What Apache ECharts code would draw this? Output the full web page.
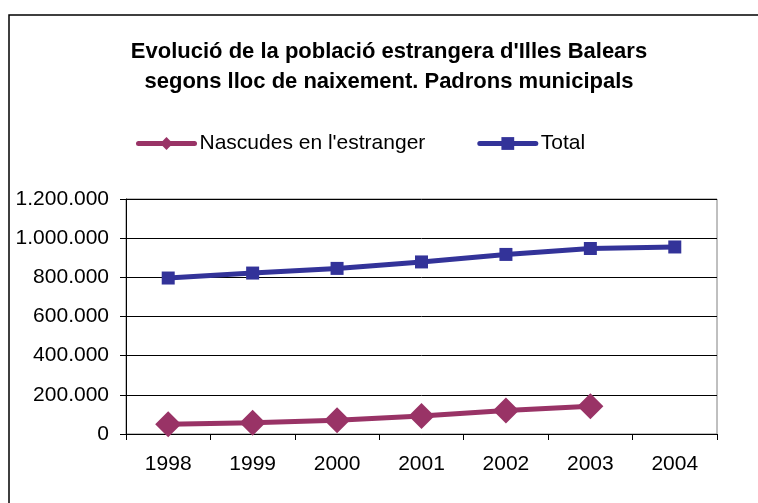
<!DOCTYPE html>
<html>
<head>
<meta charset="utf-8">
<script src="https://cdn.jsdelivr.net/npm/echarts@6/dist/echarts.min.js"></script>
<style>
  html, body { margin: 0; padding: 0; background: #fff; }
  #chart { width: 758px; height: 503px; }
</style>
</head>
<body>
<div id="chart"></div>
<script>
const years = ['1998', '1999', '2000', '2001', '2002', '2003', '2004'];
const nascudesEstranger = [50000, 58000, 70000, 92000, 120000, 142000, null];
const total = [796483, 821820, 845630, 878627, 916968, 947361, 955045];

const font = 'Liberation Sans, Arial, sans-serif';

// 1200000 -> "1.200.000"
function fmtThousands(v) {
  return String(v).replace(/\B(?=(\d{3})+(?!\d))/g, '.');
}

const chart = echarts.init(document.getElementById('chart'), null, { renderer: 'canvas' });

chart.setOption({
  animation: false,
  title: {
    text: "Evolució de la població estrangera d'Illes Balears\nsegons lloc de naixement. Padrons municipals",
    left: 384,
    textAlign: 'center',
    top: 32,
    textStyle: { fontFamily: font, fontSize: 22, fontWeight: 'bold', color: '#000', lineHeight: 30 }
  },
  legend: {
    left: 131,
    top: 128,
    itemWidth: 56,
    itemHeight: 16,
    itemGap: 52,
    lineStyle: { width: 5, cap: 'round' },
    textStyle: { fontFamily: font, fontSize: 21, color: '#000', padding: [0, 0, 0, 0] },
    data: ["Nascudes en l'estranger", 'Total']
  },
  graphic: [{
    type: 'rect',
    shape: { x: 9, y: 15, width: 780, height: 520 },
    style: { fill: 'none', stroke: '#000', lineWidth: 1.5 },
    silent: true
  }],
  grid: {
    left: 126, right: 41, top: 199, bottom: 69,
    show: true, borderColor: '#808080', borderWidth: 1,
    containLabel: false
  },
  xAxis: {
    type: 'category',
    data: years,
    boundaryGap: true,
    axisLine: { lineStyle: { color: '#000', width: 1 } },
    axisTick: { show: true, length: 6, lineStyle: { color: '#000' } },
    axisLabel: { fontFamily: font, fontSize: 21, color: '#000', margin: 20 },
    splitLine: { show: false }
  },
  yAxis: {
    type: 'value',
    min: 0, max: 1200000, interval: 200000,
    axisLine: { show: true, lineStyle: { color: '#000', width: 1 } },
    axisTick: { show: true, length: 6, lineStyle: { color: '#000' } },
    axisLabel: { fontFamily: font, fontSize: 21, color: '#000', margin: 17, formatter: fmtThousands },
    splitLine: { show: true, lineStyle: { color: '#000', width: 1 } }
  },
  series: [
    {
      name: "Nascudes en l'estranger",
      type: 'line',
      data: nascudesEstranger,
      symbol: 'diamond',
      symbolSize: 26,
      lineStyle: { color: '#993366', width: 5 },
      itemStyle: { color: '#993366' }
    },
    {
      name: 'Total',
      type: 'line',
      data: total,
      symbol: 'rect',
      symbolSize: 13,
      lineStyle: { color: '#333399', width: 5 },
      itemStyle: { color: '#333399' }
    }
  ]
});
</script>
</body>
</html>
